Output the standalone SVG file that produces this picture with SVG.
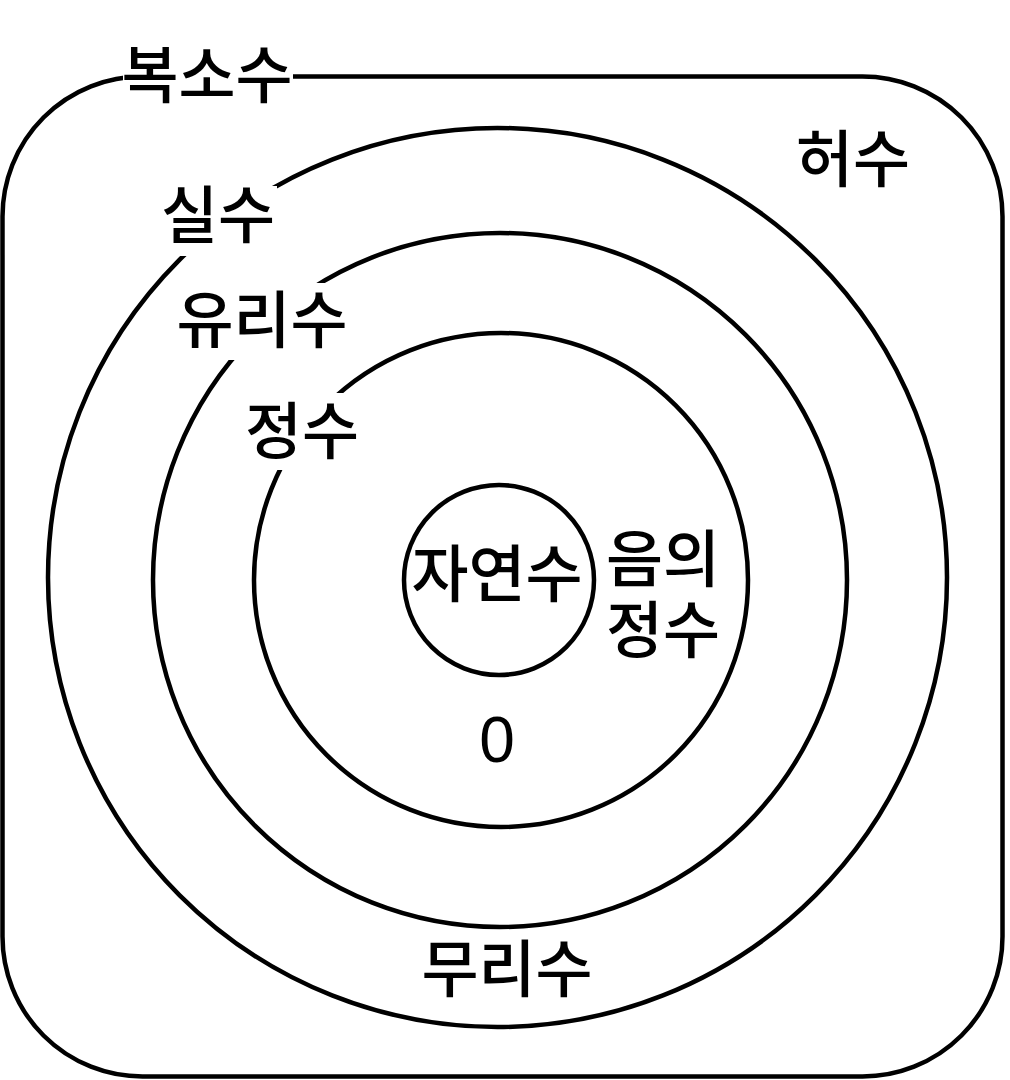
<svg xmlns="http://www.w3.org/2000/svg" width="1010" height="1080" viewBox="0 0 1010 1080">
<style>
.shape{fill:none;stroke:#000;stroke-width:4.5}
.lbl{font-family:"Liberation Sans","Noto Sans CJK KR",sans-serif;font-size:62px;font-weight:500;fill:#000;text-anchor:middle;dominant-baseline:central}
.bg{fill:#fff;stroke:none}
</style>
<rect width="1010" height="1080" fill="#fff"/>
<g id="complex">
<rect class="shape" x="2.5" y="76.5" width="1000" height="1000" rx="140" ry="140"/>
</g>
<g id="real">
<circle class="shape" cx="497.5" cy="577.5" r="449.5"/>
</g>
<g id="rational">
<circle class="shape" cx="500" cy="580" r="347"/>
</g>
<g id="integer">
<circle class="shape" cx="501" cy="580" r="247"/>
</g>
<g id="natural">
<circle class="shape" cx="499" cy="580" r="95"/>
<text class="lbl" x="497" y="575">자연수</text>
</g>
<g id="label-complex">
<rect class="bg" x="123" y="40" width="170" height="72"/>
<text class="lbl" x="207" y="76">복소수</text>
</g>
<g id="label-imaginary">
<text class="lbl" x="853" y="160">허수</text>
</g>
<g id="label-real">
<rect class="bg" x="160" y="186" width="117" height="70"/>
<text class="lbl" x="218" y="216">실수</text>
</g>
<g id="label-rational">
<rect class="bg" x="172" y="283" width="180" height="77"/>
<text class="lbl" x="262" y="321">유리수</text>
</g>
<g id="label-integer">
<rect class="bg" x="245" y="393" width="115" height="77"/>
<text class="lbl" x="302" y="432">정수</text>
</g>
<g id="label-negative">
<text class="lbl" x="663" y="560">음의</text>
<text class="lbl" x="663" y="631">정수</text>
</g>
<g id="label-zero">
<text class="lbl" x="497" y="740" style="font-size:64px">0</text>
</g>
<g id="label-irrational">
<text class="lbl" x="507" y="970">무리수</text>
</g>
<g id="connectors"></g>
</svg>
